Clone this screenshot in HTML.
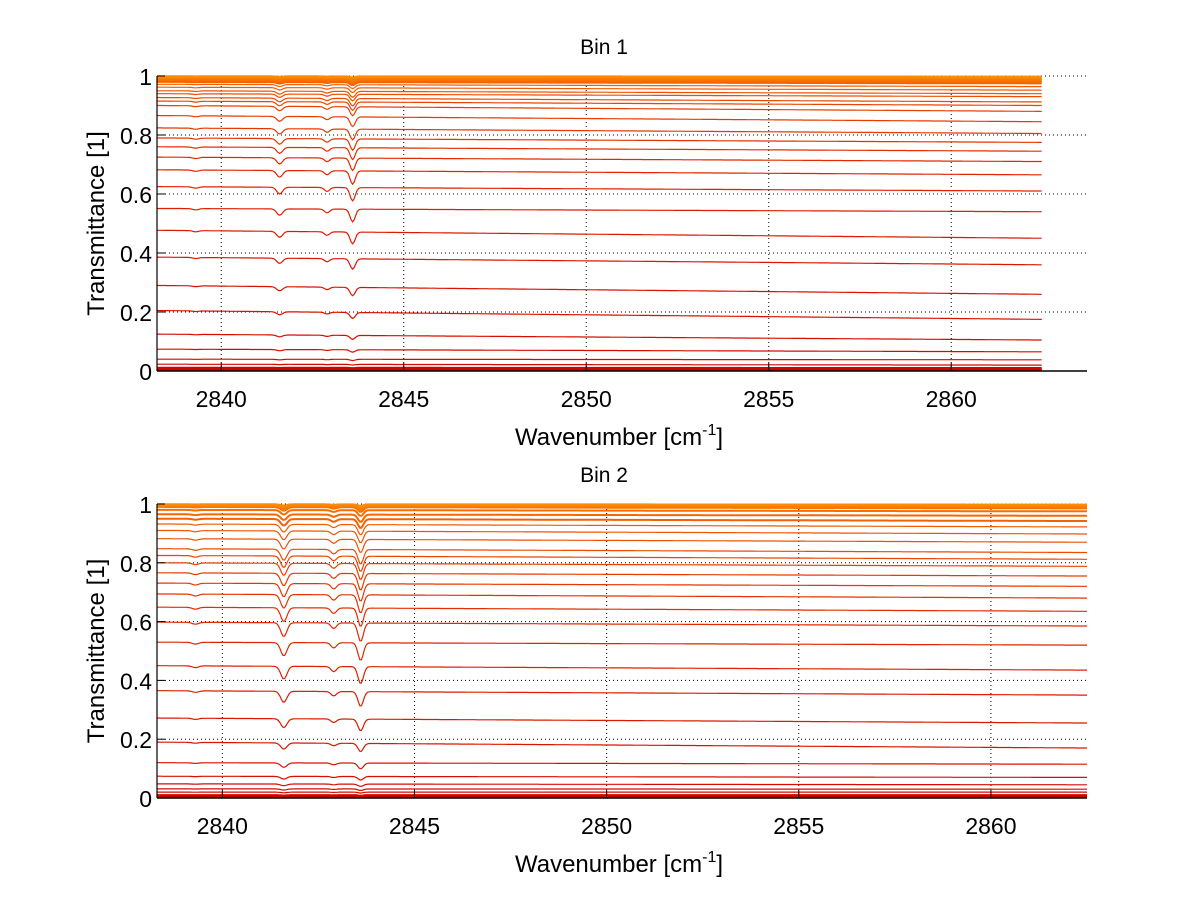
<!DOCTYPE html>
<html><head><meta charset="utf-8"><style>
body{margin:0;background:#fff}
svg text{font-family:"Liberation Sans",sans-serif;fill:#000}
</style></head><body>
<svg id="fig" width="1200" height="901" viewBox="0 0 1200 901"></svg>
<script>
const ticksX=[2840,2845,2850,2855,2860];
const ticksY=[0,0.2,0.4,0.6,0.8,1];
const tickLabelsY=["0","0.2","0.4","0.6","0.8","1"];
const dipCenters=[2839.3,2841.6,2842.9,2843.6];
const bin1Left=[0.999,0.997,0.995,0.993,0.99,0.987,0.985,0.98,0.972,0.962,0.95,0.94,0.927,0.915,0.9,0.866,0.824,0.79,0.76,0.725,0.682,0.625,0.551,0.477,0.386,0.29,0.205,0.125,0.074,0.04,0.023,0.011,0.007,0.005,0.003];
const bin1Right=[0.998,0.996,0.994,0.99,0.986,0.983,0.98,0.975,0.964,0.952,0.94,0.93,0.912,0.9,0.88,0.845,0.805,0.775,0.745,0.71,0.665,0.61,0.54,0.45,0.36,0.26,0.175,0.105,0.065,0.038,0.02,0.01,0.006,0.004,0.002];
const bin1DipB=[0.003,0.004,0.005,0.006,0.007,0.008,0.009,0.01,0.013,0.016,0.02,0.022,0.025,0.028,0.03,0.033,0.036,0.038,0.04,0.042,0.045,0.045,0.043,0.04,0.035,0.028,0.02,0.013,0.008,0.004,0.002,0.001,0.001,0.001,0.001];
const bin2Left=[0.999,0.997,0.995,0.993,0.99,0.98,0.965,0.95,0.932,0.91,0.882,0.848,0.825,0.8,0.766,0.731,0.694,0.649,0.598,0.53,0.45,0.365,0.272,0.19,0.12,0.074,0.048,0.031,0.02,0.01,0.006,0.004,0.002];
const bin2Right=[0.998,0.996,0.994,0.99,0.985,0.975,0.96,0.942,0.922,0.898,0.87,0.835,0.812,0.788,0.755,0.72,0.68,0.635,0.585,0.52,0.435,0.35,0.255,0.17,0.115,0.07,0.045,0.03,0.02,0.01,0.006,0.004,0.002];
const bin2DipB=[0.005,0.008,0.01,0.013,0.016,0.02,0.025,0.03,0.035,0.04,0.045,0.05,0.052,0.055,0.057,0.06,0.062,0.063,0.063,0.06,0.058,0.05,0.04,0.028,0.02,0.012,0.008,0.005,0.003,0.002,0.001,0.001,0.001];

const NS="http://www.w3.org/2000/svg";
const svg=document.getElementById('fig');
function el(t,a,p){const e=document.createElementNS(NS,t);for(const k in a)e.setAttribute(k,a[k]);(p||svg).appendChild(e);return e;}

function panel(cfg){
  const g=el('g',{});
  
  
  const sx=v=>cfg.x0+(v-cfg.xmin)/(cfg.xmax-cfg.xmin)*(cfg.x1-cfg.x0);
  const sy=v=>cfg.y0-v*(cfg.y0-cfg.y1);
  const cid='clip'+cfg.name;
  const cp=el('clipPath',{id:cid},g);el('rect',{x:cfg.x0,y:cfg.y1-4,width:cfg.x1-cfg.x0,height:cfg.y0-cfg.y1+4},cp);
  ticksX.forEach(t=>{const l=el('line',{x1:sx(t),x2:sx(t),y1:cfg.y0,y2:cfg.y1,stroke:'#000','stroke-width':1,'stroke-dasharray':'1,3'},g);
    });
  ticksY.forEach(t=>{const l=el('line',{x1:cfg.x0,x2:cfg.x1,y1:sy(t),y2:sy(t),stroke:'#000','stroke-width':1,'stroke-dasharray':'1,3'},g);
    });
  const sg=el('g',{'clip-path':'url(#'+cid+')'},g);
  const n=cfg.left.length;
  for(let i=n-1;i>=0;i--){
    const f=i/(n-1);
    const r=255-Math.round(50*f), gg=Math.round(140*Math.pow(1-f,1.5));
    let d='';
    for(let x=cfg.xmin;x<=cfg.dataEnd;x+=0.04){
      const fr=(x-cfg.xmin)/(cfg.dataEnd-cfg.xmin);
      let v=cfg.left[i]+(cfg.right[i]-cfg.left[i])*fr;
      const b=cfg.dipB[i];
      const gs=(c,s)=>Math.exp(-((x-c)*(x-c))/(2*s*s));
      v-=b*gs(dipCenters[3],0.07)+b*cfg.aRatio*gs(dipCenters[1],0.08)+b*0.3*gs(dipCenters[2],0.07)+b*0.1*gs(dipCenters[0],0.08);
      d+=(d?'L':'M')+sx(x).toFixed(1)+','+sy(v).toFixed(1);
    }
    const p=el('path',{d:d,fill:'none',stroke:'rgb('+r+','+gg+',0)','stroke-width':(i<8||i>n-5)?2:1.2},sg);
    
    
  }
  const ax=el('line',{x1:cfg.x0,x2:cfg.x1,y1:cfg.y0,y2:cfg.y0,stroke:'#000','stroke-width':1.5},g);
  
  const ay=el('line',{x1:cfg.x0,x2:cfg.x0,y1:cfg.y0,y2:cfg.y1,stroke:'#000','stroke-width':1.2},g);
  
  ticksX.forEach(t=>{el('line',{x1:sx(t),x2:sx(t),y1:cfg.y0,y2:cfg.y0-8,stroke:'#000'},g);
    const tx=el('text',{x:sx(t),y:cfg.y0+36,'text-anchor':'middle','font-size':23},g);tx.textContent=t;
    });
  ticksY.forEach((t,k)=>{el('line',{x1:cfg.x0,x2:cfg.x0+8,y1:sy(t),y2:sy(t),stroke:'#000'},g);
    const tx=el('text',{x:cfg.x0-5,y:sy(t)+9,'text-anchor':'end','font-size':23},g);tx.textContent=tickLabelsY[k];
    });
  const ti=el('text',{x:604,y:cfg.y1-22,'text-anchor':'middle','font-size':21},g);ti.textContent=cfg.title;
  
  const xl=el('text',{x:619,y:cfg.y0+74,'text-anchor':'middle','font-size':24},g);
  
  xl.innerHTML='Wavenumber [cm<tspan dy="-10" font-size="16">-1</tspan><tspan dy="10">]</tspan>';
  const yl=el('text',{x:0,y:0,'text-anchor':'middle','font-size':24,transform:'translate(104,'+((cfg.y0+cfg.y1)/2)+') rotate(-90)'},g);
  yl.textContent='Transmittance [1]';
  
}
panel({name:'bin-1-chart',title:'Bin 1',x0:157,x1:1087,y0:371,y1:76,xmin:2838.24,xmax:2863.72,dataEnd:2862.5,left:bin1Left,right:bin1Right,dipB:bin1DipB,aRatio:0.5});
panel({name:'bin-2-chart',title:'Bin 2',x0:157,x1:1087,y0:798,y1:504,xmin:2838.3,xmax:2862.5,dataEnd:2862.5,left:bin2Left,right:bin2Right,dipB:bin2DipB,aRatio:0.75});
</script>
</body></html>
